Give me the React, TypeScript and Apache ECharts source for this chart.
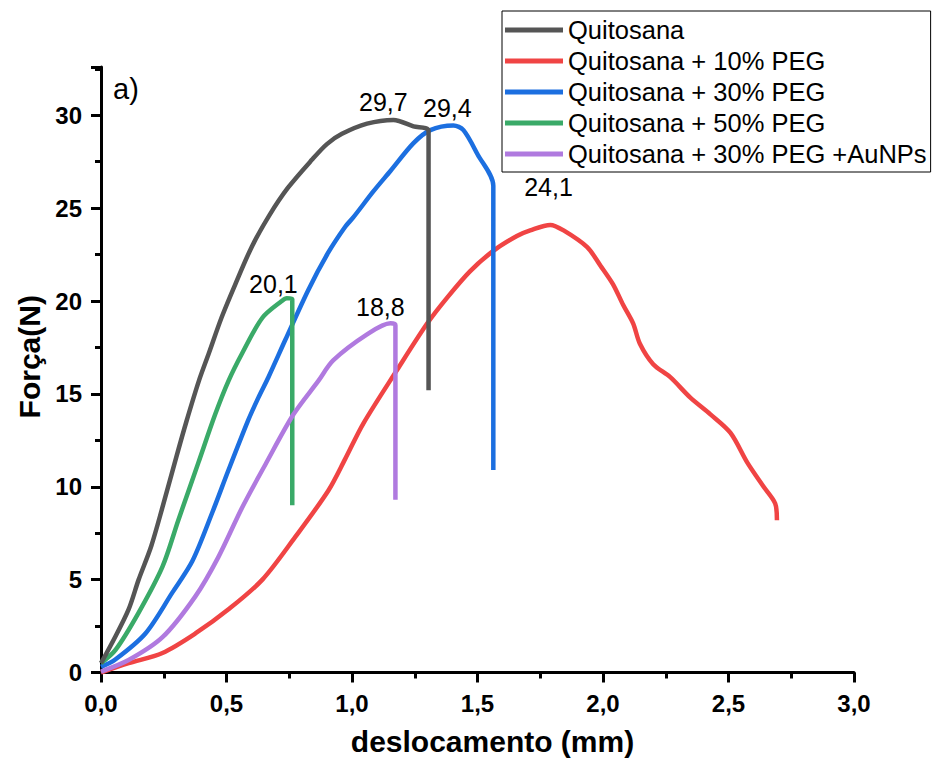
import React, { useEffect, useRef } from "react";
import * as echarts from "echarts";

const seriesNames = [
  "Quitosana",
  "Quitosana + 10% PEG",
  "Quitosana + 30% PEG",
  "Quitosana + 50% PEG",
  "Quitosana + 30% PEG +AuNPs",
];
const seriesColors = ["#555555", "#F04444", "#1C6FE0", "#3AAA68", "#B07ADF"];

const quitosana = [
  [0, 0.5], [0.05, 1.75], [0.11, 3.4], [0.15, 5.0], [0.2, 6.8], [0.245, 8.9], [0.3, 11.6],
  [0.34, 13.5], [0.39, 15.7], [0.43, 17.2], [0.48, 19.1], [0.535, 20.9], [0.6, 22.9],
  [0.67, 24.6], [0.745, 26.1], [0.84, 27.6], [0.9, 28.45], [0.96, 29.0], [1.06, 29.55],
  [1.165, 29.75], [1.245, 29.4], [1.305, 29.15], [1.305, 15.2],
];
const peg10 = [
  [0, 0], [0.11, 0.5], [0.245, 1.05], [0.376, 2.1], [0.508, 3.4], [0.643, 5.0], [0.774, 7.3],
  [0.906, 9.8], [0.973, 11.5], [1.045, 13.4], [1.18, 16.3], [1.3, 18.8], [1.38, 20.2],
  [1.47, 21.6], [1.563, 22.7], [1.657, 23.5], [1.71, 23.8], [1.79, 24.1], [1.843, 23.8],
  [1.937, 22.9], [1.99, 21.9], [2.04, 20.9], [2.08, 19.8], [2.12, 18.8], [2.147, 17.7],
  [2.2, 16.6], [2.268, 15.9], [2.348, 14.8], [2.428, 13.9], [2.508, 12.9], [2.575, 11.3],
  [2.64, 10.0], [2.686, 9.1], [2.693, 8.2],
];
const peg30 = [
  [0, 0.3], [0.057, 0.7], [0.177, 2.1], [0.284, 4.3], [0.364, 6.0], [0.443, 8.6], [0.508, 10.9],
  [0.587, 13.6], [0.627, 14.8], [0.667, 15.9], [0.734, 17.9], [0.826, 20.6], [0.905, 22.6],
  [0.973, 24.0], [1.005, 24.5], [1.085, 25.9], [1.153, 27.0], [1.245, 28.5], [1.312, 29.2],
  [1.404, 29.45], [1.444, 29.2], [1.5, 27.9], [1.563, 26.2], [1.563, 10.9],
];
const peg50 = [
  [0, 0.5], [0.057, 1.2], [0.149, 3.2], [0.245, 5.7], [0.308, 8.2], [0.388, 11.3],
  [0.455, 13.9], [0.508, 15.7], [0.563, 17.2], [0.643, 19.1], [0.72, 20.0], [0.74, 20.15],
  [0.762, 20.1], [0.762, 9.0],
];
const peg30Au = [
  [0, 0.05], [0.11, 0.67], [0.245, 1.9], [0.376, 4.1], [0.467, 6.2], [0.563, 8.9],
  [0.655, 11.2], [0.767, 13.9], [0.866, 15.7], [0.925, 16.8], [1.06, 18.2], [1.153, 18.8],
  [1.173, 18.7], [1.173, 9.3],
];
const seriesData = [quitosana, peg10, peg30, peg50, peg30Au];

// peak labels: [x, y, text] in data units, one per series
const peakLabels: [number, number, string][] = [
  [1.125, 30.7, "29,7"],
  [1.783, 26.15, "24,1"],
  [1.38, 30.4, "29,4"],
  [0.687, 20.9, "20,1"],
  [1.113, 19.7, "18,8"],
];

const xTicks = { min: 0, max: 3, interval: 0.5 };
const yTicks = { min: 0, max: 32.6, interval: 5 };

const FONT = "Arial, 'Liberation Sans', sans-serif";

export default function App() {
  const ref = useRef<HTMLDivElement>(null);
  useEffect(() => {
    if (!ref.current) return;
    const chart = echarts.init(ref.current, null, { renderer: "svg" });
    const axisCommon = {
      axisLine: { show: true, onZero: false, lineStyle: { color: "#000", width: 3 } },
      axisTick: { show: true, length: 10, lineStyle: { color: "#000", width: 3 } },
      minorTick: { show: true, splitNumber: 2, length: 6, lineStyle: { color: "#000", width: 3 } },
      splitLine: { show: false },
      minorSplitLine: { show: false },
    };
    chart.setOption({
      animation: false,
      backgroundColor: "#fff",
      textStyle: { fontFamily: FONT },
      grid: { left: 101, right: 79, top: 67, bottom: 85.5, containLabel: false, outerBoundsMode: "none" },
      legend: {
        orient: "vertical",
        left: 502,
        top: 11,
        padding: [6, 4, 5, 3],
        itemWidth: 58,
        itemHeight: 5,
        itemGap: 5,
        icon: "rect",
        borderColor: "#000",
        borderWidth: 1,
        backgroundColor: "#fff",
        data: seriesNames,
        textStyle: { fontFamily: FONT, fontSize: 25.5, color: "#000", lineHeight: 24 },
      },
      xAxis: {
        type: "value",
        ...xTicks,
        name: "deslocamento (mm)",
        nameLocation: "middle",
        nameGap: 54,
        nameTextStyle: { fontFamily: FONT, fontSize: 30, fontWeight: "bold", color: "#000", padding: [0, 0, 0, 30] },
        ...axisCommon,
        axisLabel: {
          margin: 19,
          fontFamily: FONT,
          fontSize: 24,
          fontWeight: "bold",
          color: "#000",
          formatter: (v: number) => v.toFixed(1).replace(".", ","),
        },
      },
      yAxis: {
        type: "value",
        ...yTicks,
        name: "Força(N)",
        nameLocation: "middle",
        nameGap: 56,
        nameRotate: 90,
        nameTextStyle: { fontFamily: FONT, fontSize: 30, fontWeight: "bold", color: "#000", padding: [0, 0, 0, 26] },
        ...axisCommon,
        axisLabel: {
          margin: 19,
          fontFamily: FONT,
          fontSize: 24,
          fontWeight: "bold",
          color: "#000",
          showMaxLabel: false,
          formatter: (v: number) => String(v),
        },
      },
      graphic: [
        {
          type: "text",
          left: 113,
          top: 74,
          style: { text: "a)", fontFamily: FONT, fontSize: 29, fill: "#000" },
        },
      ],
      series: seriesNames.map((name, i) => ({
        name,
        type: "line",
        data: seriesData[i],
        showSymbol: false,
        symbol: "none",
        smooth: 0.3,
        color: seriesColors[i],
        itemStyle: { color: seriesColors[i] },
        lineStyle: { width: 4.5, color: seriesColors[i], join: "round" },
        z: 2 + (i === 0 ? 1 : 0),
        markPoint: {
          symbol: "circle",
          symbolSize: 0,
          silent: true,
          label: {
            show: true,
            position: "inside",
            fontFamily: FONT,
            fontSize: 25,
            color: "#000",
            formatter: () => peakLabels[i][2],
          },
          data: [{ coord: [peakLabels[i][0], peakLabels[i][1]] }],
        },
      })),
    });
    return () => chart.dispose();
  }, []);
  return (
    <div
      ref={ref}
      style={{ position: "absolute", left: 0, top: 0, width: 933, height: 758, background: "#fff" }}
    />
  );
}
